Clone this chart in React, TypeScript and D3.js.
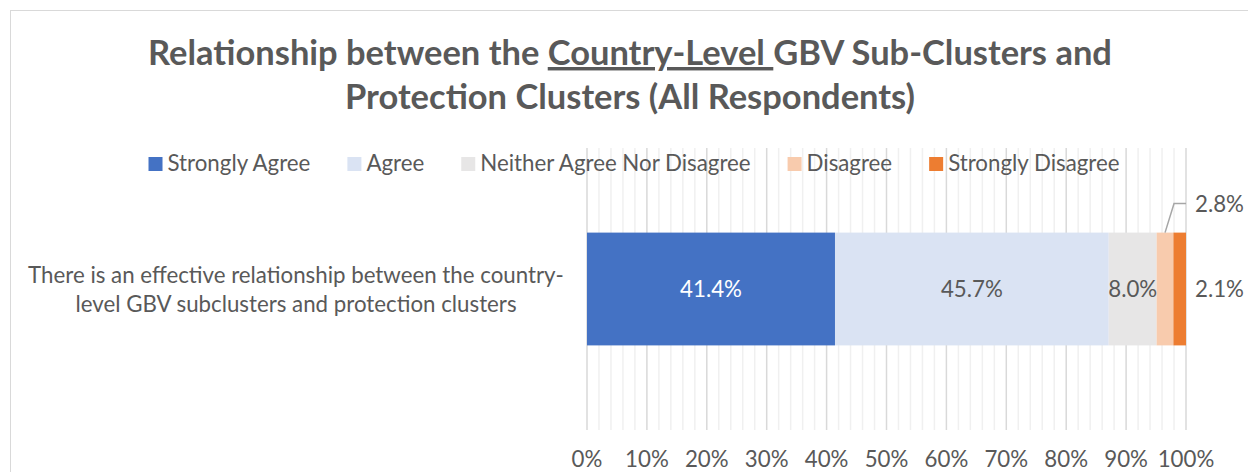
import React, { useEffect, useRef } from "react";
import * as d3 from "d3";

const categoryLines = [
  "There is an effective relationship between the country-",
  "level GBV subclusters and protection clusters",
];
const seriesNames = ["Strongly Agree", "Agree", "Neither Agree Nor Disagree", "Disagree", "Strongly Disagree"];
const seriesValues = [41.4, 45.7, 8.0, 2.8, 2.1];
const seriesColors = ["#4472C4", "#DAE3F3", "#E7E6E6", "#F8CBAD", "#ED7D31"];
const xTicks = [0, 10, 20, 30, 40, 50, 60, 70, 80, 90, 100];
const minorTicks = d3.range(0, 101, 2);

const W = 1248;
const H = 472;
const FONT = "Lato, 'Open Sans', sans-serif";
const TXT = "#595959";

export default function App() {
  const ref = useRef<SVGSVGElement>(null);

  useEffect(() => {
    const svg = d3.select(ref.current);
    svg.selectAll("*").remove();

    const measure = (text: string, size: number, weight = "normal") => {
      const t = svg.append("text").attr("font-family", FONT).attr("font-size", size).attr("font-weight", weight).text(text);
      const w = (t.node() as SVGTextElement).getComputedTextLength();
      t.remove();
      return w;
    };
    const bodySize = 100 * 143 / measure("Strongly Agree", 100);
    const titleSize = 100 * 964 / measure("Relationship between the Country-Level GBV Sub-Clusters and", 100, "bold");

    // border
    svg.append("rect").attr("x", 10.5).attr("y", 10.5).attr("width", 1260).attr("height", 500)
      .attr("fill", "#fff").attr("stroke", "#d9d9d9").attr("stroke-width", 1);

    const x = d3.scaleLinear().domain([0, 100]).range([587, 1186]);
    const y = d3.scaleBand().domain(["c"]).range([148, 430]).paddingInner(0.6).paddingOuter(0.3);
    const gTop = 148, gBot = 430;

    // grid
    svg.append("g").selectAll("line").data(minorTicks.filter(v => v % 10 !== 0)).join("line")
      .attr("x1", d => x(d)).attr("x2", d => x(d)).attr("y1", gTop).attr("y2", gBot)
      .attr("stroke", "#f0f0f0").attr("stroke-width", 1.5);
    svg.append("g").selectAll("line").data(xTicks).join("line")
      .attr("x1", d => x(d)).attr("x2", d => x(d)).attr("y1", gTop).attr("y2", gBot)
      .attr("stroke", "#d9d9d9").attr("stroke-width", 1.5);

    // title
    const title = svg.append("text").attr("x", 630).attr("text-anchor", "middle")
      .attr("font-family", FONT).attr("font-weight", "bold").attr("font-size", titleSize).attr("fill", TXT);
    const l1 = title.append("tspan").attr("x", 630).attr("y", 65);
    l1.append("tspan").text("Relationship between the ");
    l1.append("tspan").attr("text-decoration", "underline").text("Country-Level ");
    l1.append("tspan").text("GBV Sub-Clusters and");
    title.append("tspan").attr("x", 630).attr("y", 109).text("Protection Clusters (All Respondents)");

    // legend
    const sq = 14, gap = 5, spacing = 37;
    const widths = seriesNames.map(n => measure(n, bodySize));
    const total = d3.sum(widths) + seriesNames.length * (sq + gap) + spacing * (seriesNames.length - 1);
    let lx = 634 - total / 2;
    const lg = svg.append("g");
    seriesNames.forEach((n, i) => {
      lg.append("rect").attr("x", lx).attr("y", 157).attr("width", sq).attr("height", sq).attr("fill", seriesColors[i]);
      lg.append("text").attr("x", lx + sq + gap).attr("y", 171).attr("font-family", FONT)
        .attr("font-size", bodySize).attr("fill", TXT).text(n);
      lx += sq + gap + widths[i] + spacing;
    });

    // bars
    const stacked = seriesValues.map((v, i) => ({ v, i, start: d3.sum(seriesValues.slice(0, i)) }));
    const by = y("c")!;
    const bh = y.bandwidth();
    svg.append("g").selectAll("rect").data(stacked).join("rect")
      .attr("x", d => x(d.start)).attr("width", d => x(d.start + d.v) - x(d.start))
      .attr("y", by).attr("height", bh).attr("fill", d => seriesColors[d.i]);

    const cy = by + bh / 2;
    const labelColor = (i: number) => (i === 0 ? "#fff" : TXT);
    stacked.forEach(d => {
      const t = `${d.v.toFixed(1)}%`;
      if (d.i <= 2) {
        svg.append("text").attr("x", x(d.start + d.v / 2)).attr("y", cy + 8).attr("text-anchor", "middle")
          .attr("font-family", FONT).attr("font-size", bodySize).attr("fill", labelColor(d.i)).text(t);
      } else if (d.i === 3) {
        const mx = x(d.start + d.v / 2);
        svg.append("polyline").attr("points", `${mx},${by} ${mx + 9},${by - 29} ${x(100)},${by - 29}`)
          .attr("fill", "none").attr("stroke", "#a6a6a6").attr("stroke-width", 1.5);
        svg.append("text").attr("x", 1195).attr("y", by - 21).attr("font-family", FONT)
          .attr("font-size", bodySize).attr("fill", TXT).text(t);
      } else {
        svg.append("text").attr("x", 1195).attr("y", cy + 8).attr("font-family", FONT)
          .attr("font-size", bodySize).attr("fill", TXT).text(t);
      }
    });

    // category label
    categoryLines.forEach((line, k) => {
      svg.append("text").attr("x", 296).attr("y", cy - 6 + k * 29).attr("text-anchor", "middle")
        .attr("font-family", FONT).attr("font-size", bodySize).attr("fill", TXT).text(line);
    });

    // axis labels
    svg.append("g").selectAll("text").data(xTicks).join("text")
      .attr("x", d => x(d)).attr("y", 467).attr("text-anchor", "middle")
      .attr("font-family", FONT).attr("font-size", bodySize).attr("fill", TXT).text(d => `${d}%`);
  }, []);

  return (
    <svg ref={ref} width={W} height={H} style={{ position: "absolute", left: 0, top: 0, background: "#fff" }} />
  );
}
